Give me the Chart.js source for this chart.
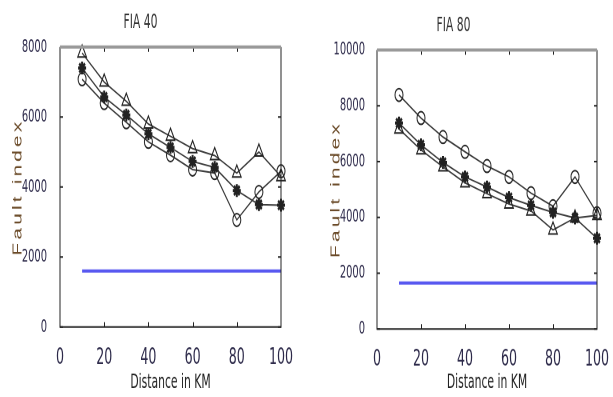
<!DOCTYPE html>
<html>
<head>
<meta charset="utf-8">
<script src="https://cdn.jsdelivr.net/npm/chart.js@4/dist/chart.umd.min.js"></script>
<style>
html, body { margin:0; padding:0; background:#fff; overflow:hidden; }
/* the source picture is stretched vertically, so each panel is drawn flat and stretched */
.panel { position:absolute; top:0; transform:scaleY(1.6); transform-origin:0 0; }
</style>
</head>
<body>
<div class="panel" style="left:0"><canvas id="fia40" width="305" height="248"></canvas></div>
<div class="panel" style="left:310px"><canvas id="fia80" width="303" height="248"></canvas></div>
<script>
//===========================================================================================
// ~~ DATA ~~
var distance = [10, 20, 30, 40, 50, 60, 70, 80, 90, 100];
var xTicks = [0, 20, 40, 60, 80, 100];

// FIA 40
var fia40Triangle = [7830, 7000, 6450, 5800, 5450, 5100, 4900, 4400, 5000, 4300];
var fia40Star     = [7400, 6570, 6060, 5520, 5130, 4730, 4560, 3900, 3500, 3480];
var fia40Circle   = [7080, 6400, 5850, 5290, 4910, 4500, 4400, 3060, 3860, 4450];
var fia40Limit    = [1600, 1600, 1600, 1600, 1600, 1600, 1600, 1600, 1600, 1600];
var fia40YTicks   = [0, 2000, 4000, 6000, 8000];

// FIA 80
var fia80Circle   = [8390, 7560, 6880, 6350, 5840, 5450, 4870, 4400, 5450, 4150];
var fia80Star     = [7380, 6600, 5970, 5450, 5090, 4710, 4430, 4180, 3980, 3250];
var fia80Triangle = [7170, 6420, 5810, 5240, 4850, 4480, 4230, 3550, 3980, 4070];
var fia80Limit    = [1650, 1650, 1650, 1650, 1650, 1650, 1650, 1650, 1650, 1650];
var fia80YTicks   = [0, 2000, 4000, 6000, 8000, 10000];

var narrow = "'Liberation Sans Narrow', 'Arial Narrow', 'DejaVu Sans Condensed', sans-serif";

function pts(values) {
  return values.map(function(v, i) { return {x: distance[i], y: v}; });
}

//===========================================================================================
// ~~ MATLAB-LIKE BOX, INWARD TICKS AND SPACED Y TITLE ~~
var boxPlugin = {
  id: 'box',
  afterDatasetsDraw: function(chart, args, opts) {
    var a = chart.chartArea, ctx = chart.ctx;
    var xs = chart.scales.x, ys = chart.scales.y;
    ctx.save();
    ctx.strokeStyle = '#222';
    ctx.lineWidth = 1;
    ctx.beginPath();
    xs.ticks.forEach(function(t) {
      var px = Math.round(xs.getPixelForValue(t.value)) + 0.5;
      if (t.value == 0 || t.value == 100) return;
      ctx.moveTo(px, a.bottom); ctx.lineTo(px, a.bottom - 3);
      ctx.moveTo(px, a.top); ctx.lineTo(px, a.top + 3);
    });
    ys.ticks.forEach(function(t) {
      var py = ys.getPixelForValue(t.value);
      ctx.moveTo(a.left, py); ctx.lineTo(a.left + 3, py);
      ctx.moveTo(a.right, py); ctx.lineTo(a.right - 3, py);
    });
    ctx.stroke();

    // frame: left, bottom, right dark, top grey and thick
    ctx.beginPath();
    ctx.moveTo(a.left, a.top); ctx.lineTo(a.left, a.bottom);
    ctx.lineTo(a.right, a.bottom); ctx.lineTo(a.right, a.top);
    ctx.stroke();
    ctx.strokeStyle = '#999';
    ctx.lineWidth = 2;
    ctx.beginPath();
    ctx.moveTo(a.left, a.top); ctx.lineTo(a.right, a.top);
    ctx.stroke();

    // y title, letters spread out
    ctx.translate(opts.x, (a.top + a.bottom) / 2);
    ctx.rotate(-Math.PI / 2);
    ctx.font = "13px 'Liberation Sans', Arial, sans-serif";
    ctx.letterSpacing = '2px';
    ctx.fillStyle = '#6a4a28';
    ctx.textAlign = 'center';
    ctx.textBaseline = 'middle';
    ctx.fillText(opts.text, 0, 0);
    ctx.restore();
  }
};

function lineSet(values, style, radius, width) {
  return {
    data: pts(values),
    borderColor: '#3a3a3a',
    borderWidth: 1,
    pointStyle: style,
    pointRadius: radius,
    pointBorderColor: '#222',
    pointBorderWidth: width,
    pointBackgroundColor: 'rgba(0,0,0,0)',
    clip: false
  };
}

function plain(v) { return String(v); }

function drawPanel(id, titleText, series, limit, yTicks, lay) {
  var datasets = [
    lineSet(series[0], 'triangle', 5, 1),
    lineSet(series[1], 'star', 4, 2),
    lineSet(series[2], 'circle', 4, 1),
    {
      data: pts(limit),
      borderColor: '#5858f0',
      borderWidth: 2,
      pointRadius: 0
    }
  ];

  new Chart(document.getElementById(id), {
    type: 'line',
    data: { datasets: datasets },
    plugins: [boxPlugin],
    options: {
      responsive: false,
      animation: false,
      devicePixelRatio: 2,
      layout: { padding: { left: 0, right: lay.right, top: 0, bottom: 0 } },
      plugins: {
        legend: { display: false },
        tooltip: { enabled: false },
        title: {
          display: true,
          text: titleText,
          color: '#333',
          font: { family: narrow, size: 12, weight: 'normal' },
          padding: { top: lay.t1, bottom: lay.t2 }
        },
        box: { text: 'Fault index', x: lay.yTitleX }
      },
      scales: {
        x: {
          type: 'linear',
          min: 0,
          max: 100,
          afterFit: function(s) { s.height = lay.xh; },
          afterBuildTicks: function(s) { s.ticks = xTicks.map(function(v) { return {value: v}; }); },
          grid: { display: false },
          border: { display: false },
          ticks: { color: '#2d2a4a', font: { family: narrow, size: 14 }, padding: 3, maxRotation: 0, autoSkip: false, callback: plain },
          title: {
            display: true,
            text: 'Distance in KM',
            color: '#222',
            font: { family: narrow, size: 12 },
            padding: { top: 0, bottom: 1.4 }
          }
        },
        y: {
          type: 'linear',
          min: 0,
          max: yTicks[yTicks.length - 1],
          afterFit: function(s) { s.width = lay.yw; },
          afterBuildTicks: function(s) { s.ticks = yTicks.map(function(v) { return {value: v}; }); },
          grid: { display: false },
          border: { display: false },
          ticks: { color: '#2d2a4a', font: { family: narrow, size: 11 }, padding: lay.ypad, callback: plain }
        }
      }
    }
  });
}

drawPanel('fia40', 'FIA 40', [fia40Triangle, fia40Star, fia40Circle], fia40Limit, fia40YTicks,
  { right: 24, t1: 7.4, t2: 7.6, xh: 43.6, yw: 60, ypad: 5, yTitleX: 18 });
drawPanel('fia80', 'FIA 80', [fia80Triangle, fia80Star, fia80Circle], fia80Limit, fia80YTicks,
  { right: 16, t1: 9.3, t2: 7.55, xh: 42.4, yw: 67, ypad: 4, yTitleX: 26 });
</script>
</body>
</html>
